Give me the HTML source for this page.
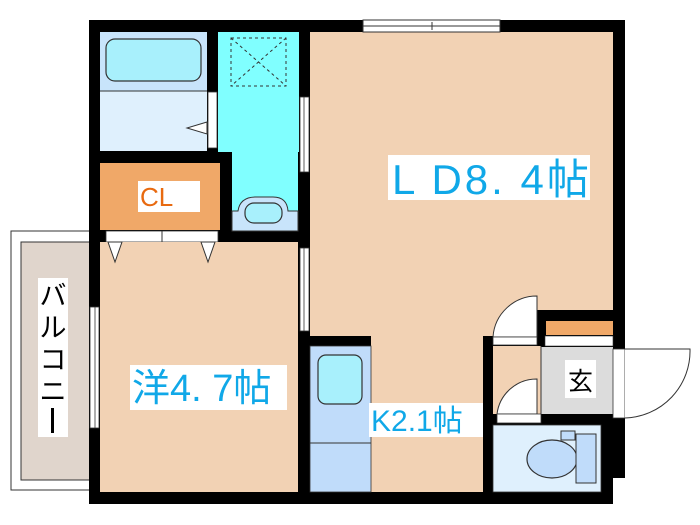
<!DOCTYPE html>
<html><head><meta charset="utf-8"><style>
html,body{margin:0;padding:0;background:#fff;width:700px;height:525px;overflow:hidden}
svg{display:block}
text{font-family:"Liberation Sans","Noto Sans CJK JP",sans-serif}
</style></head><body>
<svg width="700" height="525" viewBox="0 0 700 525" xmlns="http://www.w3.org/2000/svg">
<!-- balcony -->
<rect x="11" y="231" width="80" height="259" fill="#fff" stroke="#333" stroke-width="1"/>
<rect x="21" y="242" width="70" height="238" fill="#e0d5cc" stroke="#333" stroke-width="1"/>
<rect x="38" y="278" width="30" height="159" fill="#fff"/>
<text x="53" y="305" font-size="27" text-anchor="middle" fill="#000">バ</text>
<text x="53" y="337" font-size="27" text-anchor="middle" fill="#000">ル</text>
<text x="53" y="369" font-size="27" text-anchor="middle" fill="#000">コ</text>
<text x="53" y="401" font-size="27" text-anchor="middle" fill="#000">ニ</text>
<rect x="51" y="408" width="3" height="25" fill="#000"/>

<!-- outer walls black base -->
<rect x="89" y="20" width="536" height="484" fill="#000"/>
<rect x="625" y="20" width="80" height="290" fill="#fff"/>
<rect x="613" y="478" width="20" height="30" fill="#fff"/>
<rect x="625" y="305" width="80" height="220" fill="#fff"/>

<!-- LD -->
<rect x="310" y="32" width="303" height="278" fill="#f2d2b4"/>
<rect x="310" y="310" width="173" height="182" fill="#f2d2b4"/>
<rect x="483" y="310" width="54" height="26" fill="#f2d2b4"/>
<!-- top window -->
<rect x="363" y="20" width="137" height="12" fill="#fff" stroke="#333" stroke-width="1"/>
<line x1="363" y1="26" x2="500" y2="26" stroke="#333"/>
<line x1="432" y1="22" x2="432" y2="30" stroke="#333"/>
<rect x="388" y="155" width="202" height="45" fill="#fff"/>
<text x="392" y="194" font-size="42" fill="#10a8e8" letter-spacing="3">L D8. 4帖</text>

<!-- bath -->
<rect x="100" y="32" width="107" height="59" fill="#c8e4fb"/>
<rect x="106" y="39" width="95" height="42" rx="9" fill="#a8f0fc" stroke="#333" stroke-width="1.2"/>
<rect x="100" y="91" width="107" height="60" fill="#dff0fd"/>
<line x1="100" y1="91" x2="207" y2="91" stroke="#333"/>
<rect x="208" y="92" width="9" height="56" fill="#fff" stroke="#333" stroke-width="0.8"/>
<polygon points="207,122 187,128 207,134" fill="#fff" stroke="#333" stroke-width="1"/>

<!-- washroom -->
<rect x="218" y="32" width="81" height="120" fill="#80ffff"/>
<rect x="232" y="150" width="66" height="81" fill="#80ffff"/>
<rect x="231" y="38" width="55" height="48" fill="none" stroke="#333" stroke-dasharray="3,3"/>
<line x1="231" y1="38" x2="286" y2="86" stroke="#333" stroke-dasharray="3,3"/>
<line x1="286" y1="38" x2="231" y2="86" stroke="#333" stroke-dasharray="3,3"/>
<path d="M232,211 L238,211 Q240,197 256,197 L273,197 Q287,197 288,211 L298,211 L298,231 L232,231 Z" fill="#c8e4fb" stroke="#333" stroke-width="1"/>
<rect x="245" y="203" width="37" height="20" rx="9" fill="#a8f0fc" stroke="#333" stroke-width="1.2"/>
<!-- window washroom-LD -->
<rect x="300" y="97" width="9" height="75" fill="#fff" stroke="#333" stroke-width="0.8"/>
<line x1="304" y1="97" x2="304" y2="172" stroke="#333" stroke-width="0.8"/>

<!-- CL -->
<rect x="100" y="163" width="120" height="67" fill="#f0a868"/>
<rect x="138" y="181" width="62" height="31" fill="#fff"/>
<text x="140" y="206" font-size="26" fill="#e86a10">CL</text>
<rect x="106" y="231" width="112" height="11" fill="#fff" stroke="#333" stroke-width="0.8"/>
<line x1="162" y1="231" x2="162" y2="242" stroke="#333"/>

<!-- bedroom -->
<rect x="100" y="242" width="198" height="250" fill="#f2d2b4"/>
<polygon points="108,242 122,242 115,262" fill="#fff" stroke="#333" stroke-width="1"/>
<polygon points="201,242 215,242 208,262" fill="#fff" stroke="#333" stroke-width="1"/>
<rect x="300" y="248" width="9" height="83" fill="#fff" stroke="#333" stroke-width="0.8"/>
<line x1="304" y1="248" x2="304" y2="331" stroke="#333" stroke-width="0.8"/>
<rect x="90" y="307" width="9" height="121" fill="#fff" stroke="#333" stroke-width="0.8"/>
<line x1="95" y1="307" x2="95" y2="428" stroke="#333" stroke-width="0.8"/>
<rect x="130" y="365" width="157" height="45" fill="#fff"/>
<text x="132" y="401" font-size="38" fill="#10a8e8">洋4. 7帖</text>

<!-- kitchen -->
<rect x="300" y="336" width="71" height="10" fill="#000"/>
<rect x="310" y="346" width="61" height="146" fill="#c0dcfa" stroke="#333" stroke-width="0.8"/>
<line x1="310" y1="443" x2="371" y2="443" stroke="#333"/>
<rect x="318" y="355" width="44" height="49" rx="8" fill="#a8f0fc" stroke="#333" stroke-width="1.2"/>
<rect x="369" y="403" width="121" height="34" fill="#fff"/>
<text x="371" y="431" font-size="30" fill="#10a8e8">K2.1帖</text>

<!-- entrance area -->
<rect x="483" y="336" width="10" height="160" fill="#000"/>
<rect x="537" y="310" width="76" height="11" fill="#000"/>
<rect x="546" y="321" width="67" height="14" fill="#f0a868"/>
<rect x="545" y="336" width="68" height="10" fill="#fff" stroke="#333" stroke-width="0.6"/>
<rect x="493" y="346" width="48" height="68" fill="#f2d2b4"/>
<path d="M493,337 A44,44 0 0 1 537,296 L537,337 Z" fill="#fff" stroke="#333"/>
<rect x="493" y="337" width="44" height="8" fill="#fff" stroke="#333" stroke-width="0.8"/>
<rect x="541" y="347" width="72" height="67" fill="#dcdcdc"/>
<line x1="541" y1="346" x2="541" y2="414" stroke="#333"/>
<rect x="565" y="360" width="31" height="38" fill="#fff"/>
<text x="580.5" y="390" font-size="25" text-anchor="middle" fill="#000">玄</text>
<rect x="613" y="349" width="12" height="69" fill="#fff" stroke="#333" stroke-width="0.8"/>
<path d="M625,418 A67,67 0 0 0 690,349 L625,349" fill="#fff" stroke="#333"/>
<path d="M497,414 A40,40 0 0 1 537,379 L537,414 Z" fill="#fff" stroke="#333"/>
<rect x="497" y="414" width="44" height="9" fill="#fff" stroke="#333" stroke-width="0.8"/>
<!-- toilet -->
<rect x="493" y="425" width="108" height="67" fill="#dff0fd" stroke="#333" stroke-width="0.8"/>
<ellipse cx="552" cy="459" rx="25" ry="19" fill="#c0dcfa" stroke="#333" stroke-width="1.2"/>
<rect x="576" y="434" width="20" height="49" fill="#c0dcfa" stroke="#333" stroke-width="1"/>
<rect x="561" y="431" width="14" height="9" fill="#c0dcfa" stroke="#333" stroke-width="1"/>
</svg>
</body></html>
